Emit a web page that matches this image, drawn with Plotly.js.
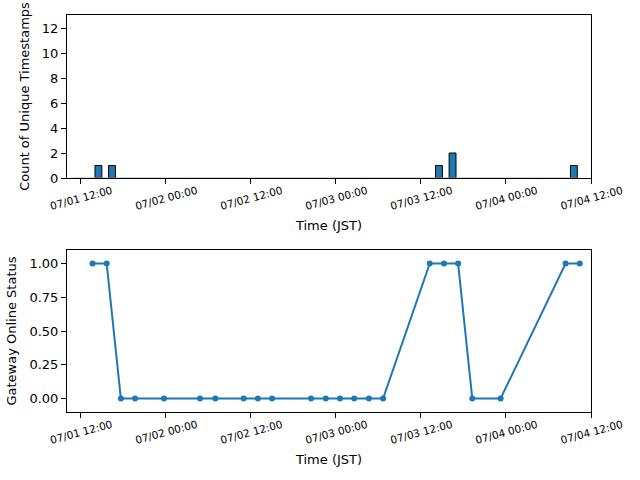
<!DOCTYPE html>
<html>
<head>
<meta charset="utf-8">
<script src="https://cdn.plot.ly/plotly-3.0.1.min.js"></script>
<style>html,body{margin:0;padding:0;background:#fff;}</style>
</head>
<body>
<div id="chart" style="width:640px;height:480px;"></div>
<script>
// Top panel: histogram of unique timestamps (bar centers, counts)
const binCenters = ["2024-07-01 14:30", "2024-07-01 16:25", "2024-07-03 14:33", "2024-07-03 16:28", "2024-07-04 09:35"];
const binCounts = [1, 1, 1, 2, 1];
const histSpan = ["2024-07-01 11:00", "2024-07-04 10:05"];

// Bottom panel: gateway online status
const statusTimes = [
  "2024-07-01 13:40", "2024-07-01 15:40", "2024-07-01 17:40", "2024-07-01 19:40",
  "2024-07-01 23:45", "2024-07-02 04:50", "2024-07-02 07:00", "2024-07-02 11:00",
  "2024-07-02 13:00", "2024-07-02 15:00", "2024-07-02 20:30", "2024-07-02 22:35",
  "2024-07-03 00:35", "2024-07-03 02:35", "2024-07-03 04:40", "2024-07-03 06:40",
  "2024-07-03 13:15", "2024-07-03 15:15", "2024-07-03 17:15", "2024-07-03 19:15",
  "2024-07-03 23:15", "2024-07-04 08:25", "2024-07-04 10:25"
];
const statusValues = [1, 1, 0, 0, 0, 0, 0, 0, 0, 0, 0, 0, 0, 0, 0, 0, 1, 1, 1, 0, 0, 1, 1];

const xRange = ["2024-07-01 10:04", "2024-07-04 12:00"];
const blue = "#1f77b4";
const font = "DejaVu Sans, sans-serif";

const traces = [
  {
    type: "scatter", mode: "lines", x: histSpan, y: [0, 0],
    line: {color: "#aaaaaa", width: 1}, xaxis: "x", yaxis: "y",
    hoverinfo: "skip", showlegend: false
  },
  {
    type: "bar", x: binCenters, y: binCounts, width: 3500000,
    marker: {color: blue, line: {color: "#000", width: 1}},
    xaxis: "x", yaxis: "y", showlegend: false
  },
  {
    type: "scatter", mode: "lines+markers", x: statusTimes, y: statusValues,
    line: {color: blue, width: 2}, marker: {color: blue, size: 6},
    xaxis: "x2", yaxis: "y2", showlegend: false
  }
];

const xCommon = {
  type: "date", range: xRange, tick0: "2024-07-01 12:00", dtick: 43200000,
  tickformat: "%m/%d %H:%M", tickangle: -15,
  ticklabelshift: 31, ticklabelstandoff: -3,
  tickfont: {family: font, size: 10.5, color: "#000"},
  ticks: "outside", ticklen: 5, tickcolor: "#000", tickwidth: 1,
  showline: true, mirror: true, linecolor: "#000", linewidth: 1,
  showgrid: false, zeroline: false,
  title: {text: "Time (JST)", font: {family: font, size: 13, color: "#000"}, standoff: 10}
};

const layout = {
  width: 640, height: 480,
  margin: {l: 67, r: 49, t: 15, b: 68},
  paper_bgcolor: "#fff", plot_bgcolor: "#fff",
  font: {family: font, color: "#000"},
  bargap: 0,
  xaxis: Object.assign({}, xCommon, {anchor: "y"}),
  xaxis2: Object.assign({}, xCommon, {anchor: "y2"}),
  yaxis: {
    domain: [0.5894, 1], range: [0, 13.05], tickvals: [0, 2, 4, 6, 8, 10, 12],
    tickfont: {family: font, size: 13, color: "#000"},
    ticks: "outside", ticklen: 5, tickcolor: "#000",
    showline: true, mirror: true, linecolor: "#000", linewidth: 1,
    showgrid: false, zeroline: false,
    title: {text: "Count of Unique Timestamps", font: {family: font, size: 13, color: "#000"}, standoff: 9}
  },
  yaxis2: {
    domain: [0, 0.408], range: [-0.1, 1.1], tickvals: [0, 0.25, 0.5, 0.75, 1.0],
    tickformat: ".2f",
    tickfont: {family: font, size: 13, color: "#000"},
    ticks: "outside", ticklen: 5, tickcolor: "#000",
    showline: true, mirror: true, linecolor: "#000", linewidth: 1,
    showgrid: false, zeroline: false,
    title: {text: "Gateway Online Status", font: {family: font, size: 13, color: "#000"}, standoff: 9}
  }
};

Plotly.newPlot("chart", traces, layout, {displayModeBar: false, staticPlot: true});
</script>
</body>
</html>
